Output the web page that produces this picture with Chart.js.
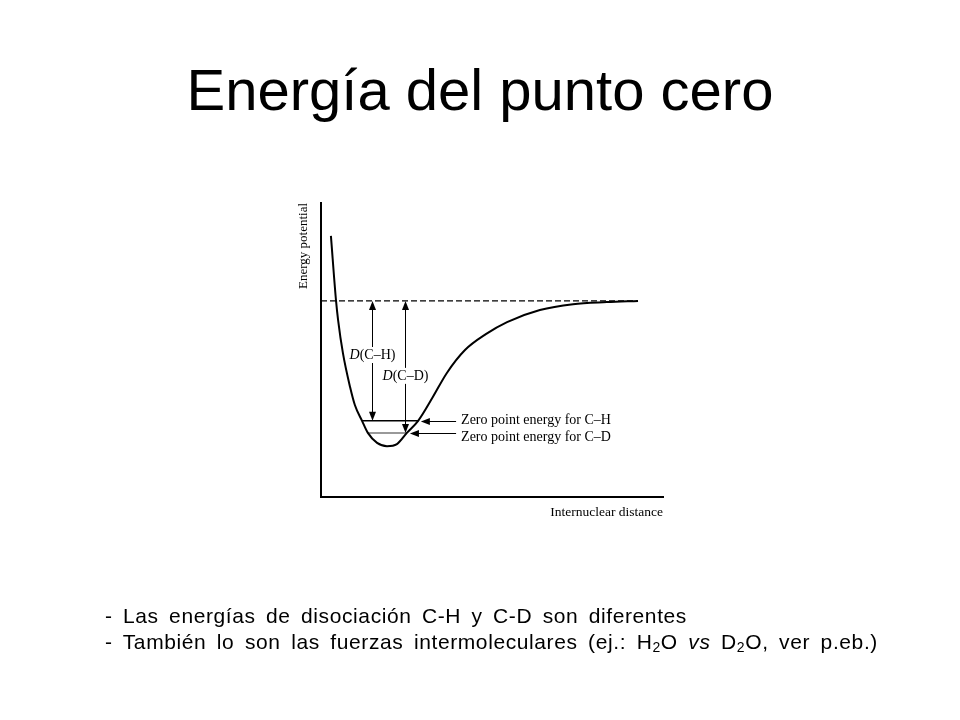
<!DOCTYPE html>
<html>
<head>
<meta charset="utf-8">
<script src="https://cdn.jsdelivr.net/npm/chart.js@4.4.1/dist/chart.umd.min.js"></script>
<style>
body{margin:0;background:#fff;width:960px;height:720px;position:relative;overflow:hidden;}
canvas{position:absolute;left:0;top:0;}
#title{position:absolute;left:0;top:61px;width:960px;text-align:center;font:58px/58px "Liberation Sans",Arial,sans-serif;color:#000;}
#notes{position:absolute;left:105px;top:603px;font:21px/26px "Liberation Sans",Arial,sans-serif;letter-spacing:0.6px;color:#000;white-space:nowrap;}
#notes sub{font-size:14px;vertical-align:-3px;line-height:0;}
#line1{word-spacing:4px;}
#line2{word-spacing:4.1px;}
</style>
</head>
<body>
<canvas id="potential_canvas" width="960" height="720"></canvas>
<div id="title">Energía del punto cero</div>
<div id="notes"><span id="line1">- Las energías de disociación C-H y C-D son diferentes</span><br><span id="line2">- También lo son las fuerzas intermoleculares (ej.: H<sub>2</sub>O <i>vs</i> D<sub>2</sub>O, ver p.eb.)</span></div>
<script>
// potential curve (x: distance, y: energy, both 0..100)
var curve_x=[2.9,4.4,5.0,6.4,8.5,9.9,12.0,13.7,16.4,19.3,22.2,25.1,28.4,32.7,36.8,42.1,48.2,54.4,64.0,73.7,83.6,92.7];
var curve_y=[88.8,66.7,60.2,49.0,37.4,31.3,25.9,21.8,18.4,17.3,18.0,21.8,25.9,34.0,42.2,50.0,55.4,59.5,63.6,65.6,66.3,66.7];
var dissociation_y=66.7;
var dissociation_end=92.7;
var zpe_levels=[25.9,21.8];           // C-H, C-D
var zpe_ch_span=[12.0,28.4];
var zpe_cd_span=[13.7,25.1];
var d_arrow_x=[14.9,24.6];
var d_labels=["(C–H)","(C–D)"];
var d_label_y=[48.3,41.2];
var zpe_labels=["Zero point energy for C–H","Zero point energy for C–D"];
var zpe_arrow_tip=[29.2,26.0];
var zpe_arrow_tail=39.5;
var zpe_label_y=[26.2,20.4];
var axis_titles=["Energy potential","Internuclear distance"];

function pts(xs,ys){
	var out=[];
	for(var i=0;i<xs.length;i++) out.push({x:xs[i],y:ys[i]});
	return out;
}

function head(c,x,y,dx,dy){
	// tip at x,y; dx,dy points back along the shaft
	c.beginPath();
	c.moveTo(x,y);
	c.lineTo(x+dx*9-dy*3.5,y+dy*9+dx*3.5);
	c.lineTo(x+dx*9+dy*3.5,y+dy*9-dx*3.5);
	c.closePath();
	c.fill();
}

var notes_plugin={
	id:'potential_notes',
	afterDatasetsDraw:function(chart){
		var c=chart.ctx,xs=chart.scales.x,ys=chart.scales.y,a=chart.chartArea;
		c.save();
		c.strokeStyle='#000';c.fillStyle='#000';c.lineWidth=1;
		var top=ys.getPixelForValue(dissociation_y);
		for(var i=0;i<2;i++){
			var px=Math.round(xs.getPixelForValue(d_arrow_x[i]))+0.5;
			var bot=ys.getPixelForValue(zpe_levels[i]);
			c.beginPath();c.moveTo(px,top+8);c.lineTo(px,bot-8);c.stroke();
			head(c,px,top,0,1);
			head(c,px,bot,0,-1);
			// D(C-H) / D(C-D) label on white
			var ly=ys.getPixelForValue(d_label_y[i]);
			c.font='italic 14px "Liberation Serif"';
			var w1=c.measureText("D").width;
			c.font='14px "Liberation Serif"';
			var w2=c.measureText(d_labels[i]).width;
			var x0=px-(w1+w2)/2;
			c.fillStyle='#fff';c.fillRect(x0-2,ly-8,w1+w2+4,16);
			c.fillStyle='#000';c.textBaseline='middle';c.textAlign='left';
			c.font='italic 14px "Liberation Serif"';c.fillText("D",x0,ly);
			c.font='14px "Liberation Serif"';c.fillText(d_labels[i],x0+w1,ly);
			// zero point arrows + text
			var hy=Math.round(bot)+0.5;
			var tail=xs.getPixelForValue(zpe_arrow_tail);
			var tip=xs.getPixelForValue(zpe_arrow_tip[i]);
			c.beginPath();c.moveTo(tail,hy);c.lineTo(tip+8,hy);c.stroke();
			head(c,tip,hy,1,0);
			c.fillText(zpe_labels[i],tail+5,ys.getPixelForValue(zpe_label_y[i]));
		}
		// axis titles
		c.font='13px "Liberation Serif"';
		c.textAlign='center';c.textBaseline='middle';
		c.save();
		c.translate(a.left-17,a.top+43);
		c.rotate(-Math.PI/2);
		c.fillText(axis_titles[0],0,0);
		c.restore();
		c.font='13.5px "Liberation Serif"';
		c.textAlign='right';
		c.fillText(axis_titles[1],a.right,a.bottom+15);
		c.restore();
	}
};

var ctx=document.getElementById("potential_canvas").getContext("2d");
var chart=new Chart(ctx,{
	type:'scatter',
	data:{datasets:[
		{data:pts(curve_x,curve_y),showLine:true,borderColor:'#000',borderWidth:2,pointRadius:0,cubicInterpolationMode:'monotone'},
		{data:[{x:0,y:dissociation_y},{x:dissociation_end,y:dissociation_y}],showLine:true,borderColor:'#000',borderWidth:1.3,borderDash:[6,3],pointRadius:0},
		{data:[{x:zpe_ch_span[0],y:zpe_levels[0]},{x:zpe_ch_span[1],y:zpe_levels[0]}],showLine:true,borderColor:'#000',borderWidth:1.5,pointRadius:0},
		{data:[{x:zpe_cd_span[0],y:zpe_levels[1]},{x:zpe_cd_span[1],y:zpe_levels[1]}],showLine:true,borderColor:'#777',borderWidth:1.5,pointRadius:0}
	]},
	options:{
		responsive:false,
		animation:false,
		layout:{padding:{left:321,top:203,right:297,bottom:223}},
		plugins:{legend:{display:false},tooltip:{enabled:false}},
		scales:{
			x:{type:'linear',min:0,max:100,grid:{display:false,drawTicks:false},ticks:{display:false},border:{color:'#000',width:2}},
			y:{type:'linear',min:0,max:100,grid:{display:false,drawTicks:false},ticks:{display:false},border:{color:'#000',width:2}}
		}
	},
	plugins:[notes_plugin]
});
</script>
</body>
</html>
